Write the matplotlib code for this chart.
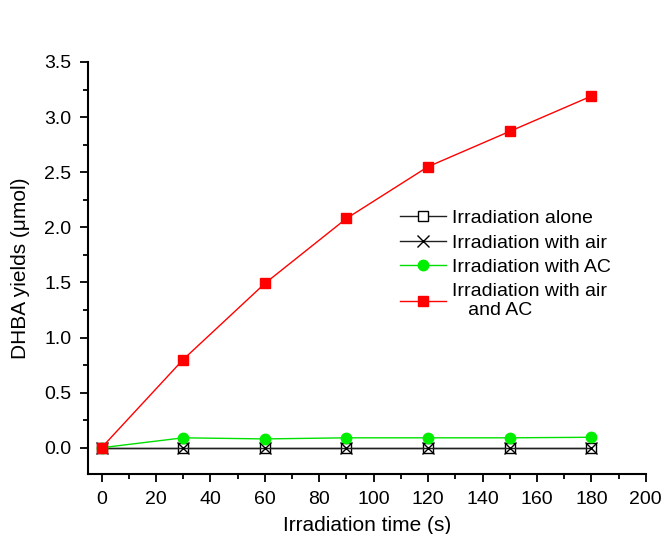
import matplotlib
matplotlib.use("Agg")
import matplotlib.pyplot as plt
from matplotlib.ticker import MultipleLocator

plt.rcParams['font.family'] = ['Liberation Sans', 'DejaVu Sans']

time_s = [0, 30, 60, 90, 120, 150, 180]
alone = [0, 0, 0, 0, 0, 0, 0]
with_air = [0, 0, 0, 0, 0, 0, 0]
with_ac = [0, 0.09, 0.08, 0.09, 0.09, 0.09, 0.095]
air_and_ac = [0, 0.80, 1.49, 2.08, 2.55, 2.87, 3.19]

fig = plt.figure(figsize=(6.61, 5.34), dpi=100)
ax = fig.add_axes([0.133, 0.112, 0.844, 0.772])

ax.plot(time_s, alone, color="#202020", lw=1, marker="s", ms=7.5,
        mfc="white", mec="black", mew=1, label="Irradiation alone")
ax.plot(time_s, with_air, color="#202020", lw=1, marker="x", ms=8,
        mec="black", mew=1, label="Irradiation with air")
ax.plot(time_s, with_ac, color="#00e000", lw=1, marker="o", ms=7.5,
        mfc="#00ee00", mec="#00ee00", label="Irradiation with AC")
ax.plot(time_s, air_and_ac, color="red", lw=1, marker="s", ms=7.5,
        mfc="red", mec="red", label="Irradiation with air\n   and AC")

ax.set_xlim(-5, 200)
ax.set_ylim(-0.24, 3.5)
ax.xaxis.set_major_locator(MultipleLocator(20))
ax.xaxis.set_minor_locator(MultipleLocator(10))
ax.yaxis.set_major_locator(MultipleLocator(0.5))
ax.yaxis.set_minor_locator(MultipleLocator(0.25))
ax.yaxis.set_major_formatter(matplotlib.ticker.FormatStrFormatter('%.1f'))

for s in ["top", "right"]:
    ax.spines[s].set_visible(False)
for s in ["left", "bottom"]:
    ax.spines[s].set_linewidth(1.5)
ax.tick_params(which="major", direction="out", length=6, width=1.3,
               labelsize=14, pad=6)
ax.tick_params(which="minor", direction="out", length=3.5, width=1.3)

ax.set_xlabel("Irradiation time (s)", fontsize=15, labelpad=6)
ax.set_ylabel("DHBA yields (μmol)", fontsize=15, labelpad=10)

ax.legend(loc="upper left", bbox_to_anchor=(386 / 661, 1 - 196 / 534),
          bbox_transform=fig.transFigure, frameon=False, fontsize=14,
          handlelength=2.4, handletextpad=0.3, labelspacing=0.35,
          borderpad=0.2)

fig.savefig("out.png", dpi=100)
